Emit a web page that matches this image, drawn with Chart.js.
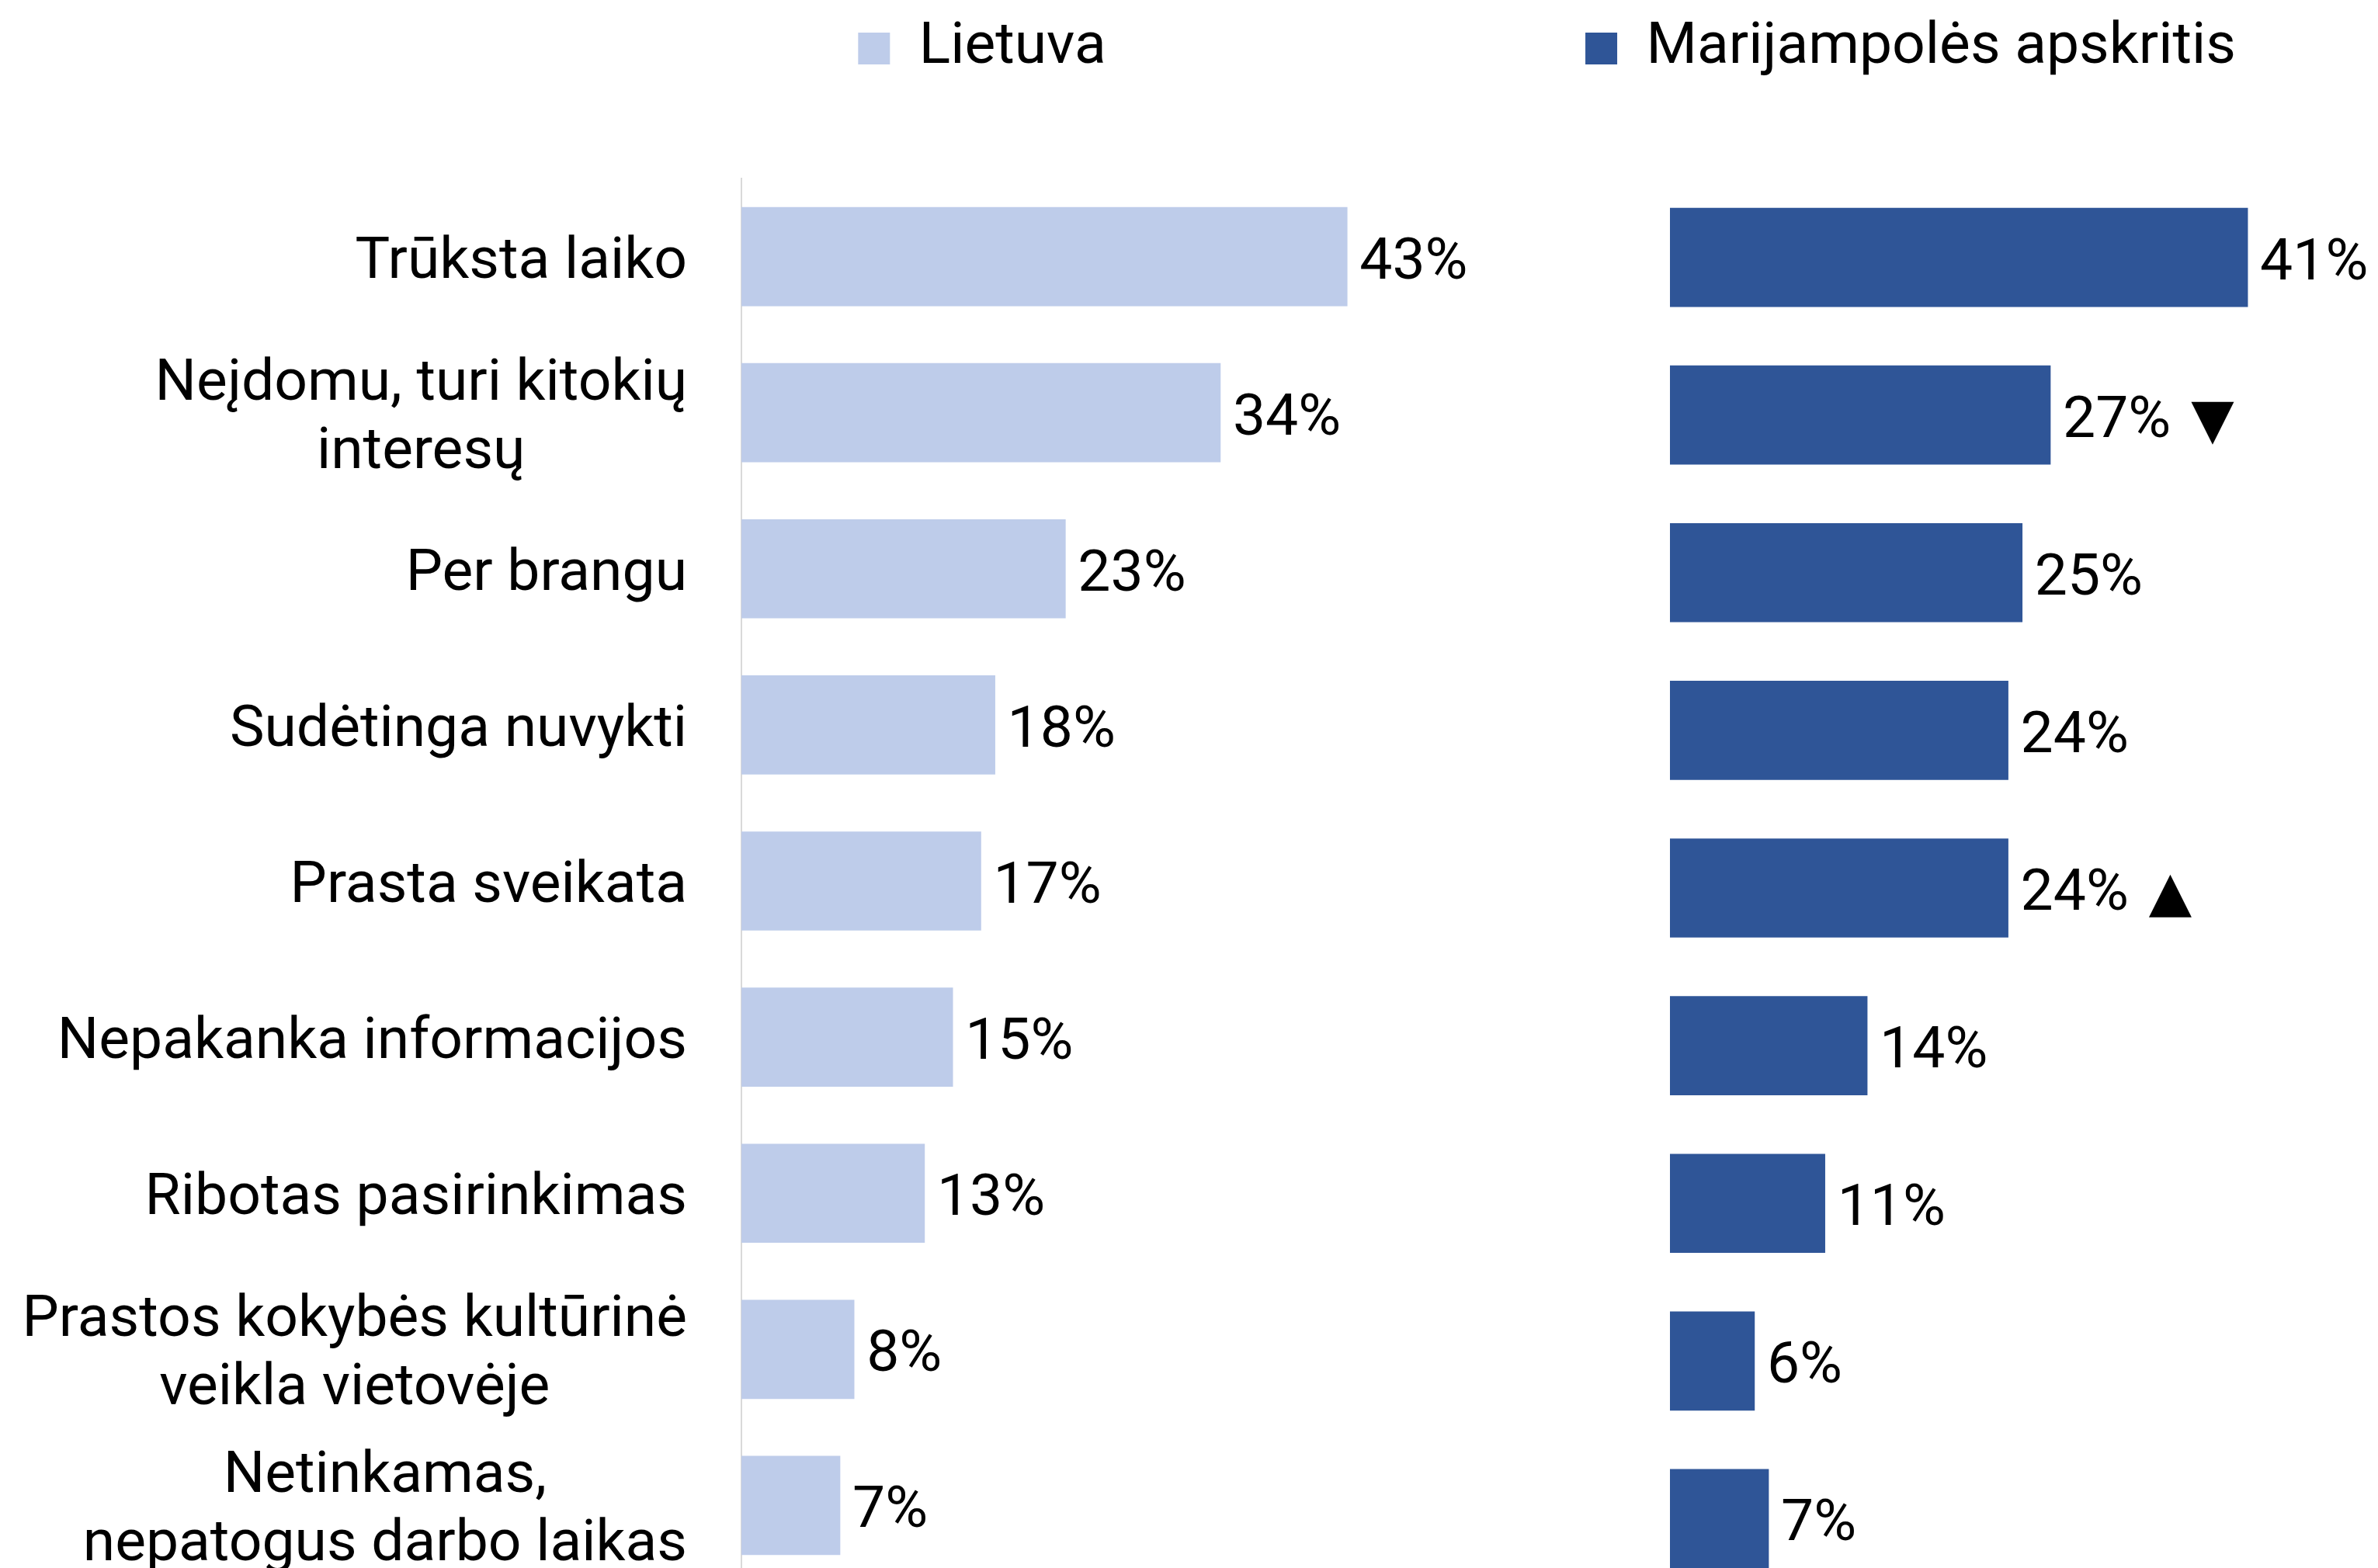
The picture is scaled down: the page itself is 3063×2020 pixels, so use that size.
<!DOCTYPE html>
<html lang="lt">
<head>
<meta charset="utf-8">
<title>Kliūtys dalyvauti kultūrinėje veikloje</title>
<script src="https://cdn.jsdelivr.net/npm/chart.js@4.4.1/dist/chart.umd.min.js"></script>
<style>
  html, body { margin: 0; padding: 0; background: #fff; overflow: hidden; }
  #stage { position: relative; width: 3063px; height: 2020px; overflow: hidden; background: #fff; }
  #stage canvas { position: absolute; top: 0; }
  #leftChart { left: 0; }
  #rightChart { left: 1859px; }
</style>
</head>
<body>
<div id="stage">
  <canvas id="leftChart" width="2530" height="2060"></canvas>
  <canvas id="rightChart" width="1204" height="2060"></canvas>
</div>
<script>
// Reasons (each entry is the list of lines of a wrapped label)
const categories = [
  ['Trūksta laiko'],
  ['Neįdomu, turi kitokių', 'interesų'],
  ['Per brangu'],
  ['Sudėtinga nuvykti'],
  ['Prasta sveikata'],
  ['Nepakanka informacijos'],
  ['Ribotas pasirinkimas'],
  ['Prastos kokybės kultūrinė', 'veikla vietovėje'],
  ['Netinkamas,', 'nepatogus darbo laikas']
];

// Shares of respondents, %
const lietuva = [43, 34, 23, 18, 17, 15, 13, 8, 7];
const marijampole = [41, 27, 25, 24, 24, 14, 11, 6, 7];

// Significant difference from the national figure
const marijampoleChange = ['', '▼', '', '', '▲', '', '', '', ''];

const seriesNames = ['Lietuva', 'Marijampolės apskritis'];
const seriesColors = ['#BECCEA', '#2F5597'];

const FONT = 'Roboto, "DejaVu Sans", sans-serif';
const FONT_SIZE = 75;
const LEGEND_BAND = 230;

// Reserve a fixed band above the plot for the legend
const legendBand = {
  id: 'legendBand',
  beforeLayout(chart) {
    const legend = chart.legend;
    if (!legend || legend._bandFit) return;
    const fit = legend.fit;
    legend.fit = function () { fit.call(this); this.height = LEGEND_BAND; };
    legend._bandFit = true;
  }
};

// Percent labels to the right of every bar, with an optional change marker
const valueLabels = {
  id: 'valueLabels',
  afterDatasetsDraw(chart, args, opts) {
    const ctx = chart.ctx;
    const meta = chart.getDatasetMeta(0);
    const values = chart.data.datasets[0].data;
    const marks = opts.marks || [];
    ctx.save();
    ctx.fillStyle = '#000';
    ctx.textAlign = 'left';
    ctx.textBaseline = 'alphabetic';
    meta.data.forEach((bar, i) => {
      const text = values[i] + '%';
      const x = bar.x + 16;
      const y = bar.y + 28;
      ctx.font = FONT_SIZE + 'px ' + FONT;
      ctx.fillText(text, x, y);
      if (marks[i]) {
        const w = ctx.measureText(text).width;
        ctx.font = '72px "DejaVu Sans", sans-serif';
        ctx.fillText(marks[i], x + w + 26, y + 1);
      }
    });
    ctx.restore();
  }
};

// Category names: each block right-aligned to the axis, its lines centred
const categoryLabels = {
  id: 'categoryLabels',
  afterDraw(chart) {
    const ctx = chart.ctx;
    const yScale = chart.scales.y;
    const right = chart.chartArea.left - 70;
    const lineHeight = 88;
    ctx.save();
    ctx.font = FONT_SIZE + 'px ' + FONT;
    ctx.fillStyle = '#000';
    ctx.textAlign = 'center';
    ctx.textBaseline = 'alphabetic';
    chart.data.labels.forEach((lines, i) => {
      const yc = yScale.getPixelForValue(i);
      const blockW = Math.max(...lines.map(l => ctx.measureText(l).width));
      const cx = right - blockW / 2;
      const first = yc + 27 - (lines.length - 1) * lineHeight / 2;
      lines.forEach((l, k) => ctx.fillText(l, cx, first + k * lineHeight));
    });
    ctx.restore();
  }
};

function panel(canvas, cfg) {
  return new Chart(canvas, {
    type: 'bar',
    data: {
      labels: categories,
      datasets: [{
        label: cfg.name,
        data: cfg.values,
        backgroundColor: cfg.color,
        borderWidth: 0,
        barThickness: 127
      }]
    },
    options: {
      indexAxis: 'y',
      responsive: false,
      devicePixelRatio: 1,
      animation: false,
      layout: { padding: { top: 0, left: 0, right: 0, bottom: cfg.padBottom } },
      scales: {
        x: { type: 'linear', min: 0, max: cfg.xMax, display: false },
        y: {
          type: 'category',
          ticks: { display: false },
          grid: { display: false, drawTicks: false },
          border: { display: cfg.axisLine, color: '#D9D9D9', width: 2 },
          afterFit(scale) { scale.width = cfg.axisWidth; }
        }
      },
      plugins: {
        legend: {
          display: true,
          position: 'top',
          align: 'center',
          labels: {
            font: { family: FONT, size: FONT_SIZE },
            color: '#000',
            boxWidth: 41,
            boxHeight: 41,
            padding: 25
          }
        },
        tooltip: { enabled: false },
        valueLabels: { marks: cfg.marks || [] }
      }
    },
    plugins: cfg.withCategories ? [legendBand, valueLabels, categoryLabels] : [legendBand, valueLabels]
  });
}

panel(document.getElementById('leftChart'), {
  name: seriesNames[0], values: lietuva, color: seriesColors[0],
  xMax: 86.8, axisWidth: 955, axisLine: true, padBottom: 20, withCategories: true
});

panel(document.getElementById('rightChart'), {
  name: seriesNames[1], values: marijampole, color: seriesColors[1], marks: marijampoleChange,
  xMax: 50.25, axisWidth: 292, axisLine: false, padBottom: 2, withCategories: false
});
</script>
</body>
</html>
